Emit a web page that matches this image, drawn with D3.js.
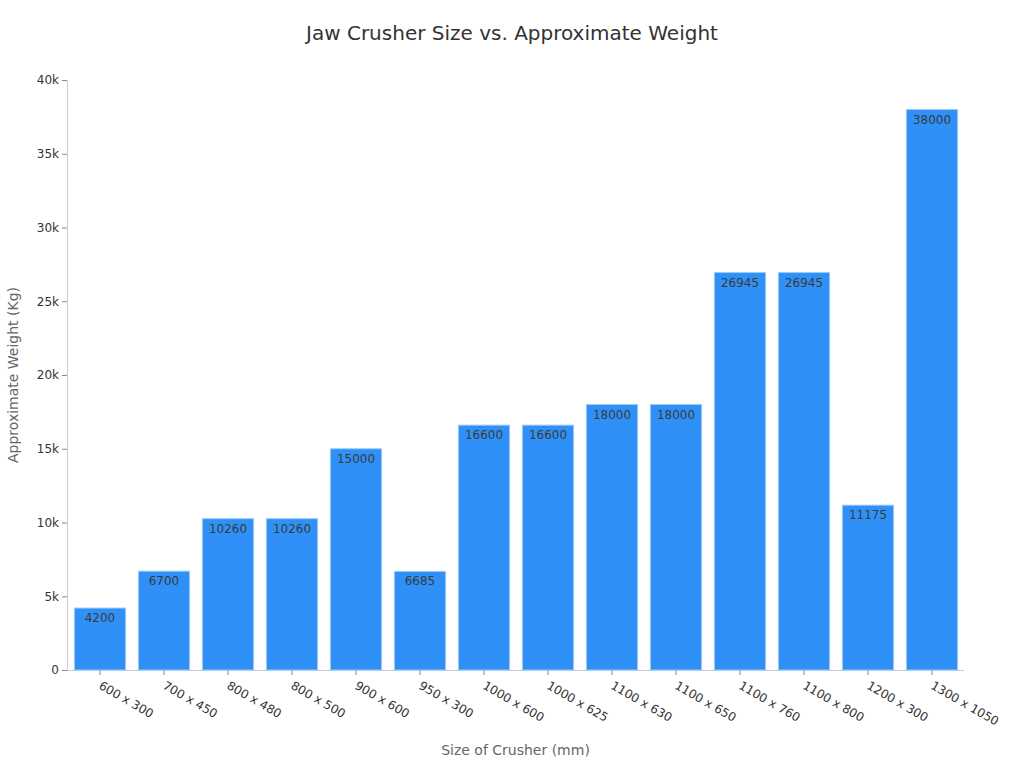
<!DOCTYPE html>
<html><head><meta charset="utf-8">
<script src="https://cdn.jsdelivr.net/npm/d3@7"></script>
<style>body{margin:0;background:#fff;font-family:"DejaVu Sans",sans-serif;}</style>
</head><body><svg id="c" width="1024" height="768"></svg>
<script>
const categories = ["600 x 300","700 x 450","800 x 480","800 x 500","900 x 600","950 x 300","1000 x 600","1000 x 625","1100 x 630","1100 x 650","1100 x 760","1100 x 800","1200 x 300","1300 x 1050"];
const weights = [4200,6700,10260,10260,15000,6685,16600,16600,18000,18000,26945,26945,11175,38000];
const yTicks = [0,5000,10000,15000,20000,25000,30000,35000,40000];

const svg = d3.select("#c");
const m = {l:67, r:60, t:80, b:98};
const W = 1024, H = 768;
const x = d3.scaleBand().domain(categories).range([m.l + 1, W - m.r]).paddingInner(0.2).paddingOuter(0.1);
const y = d3.scaleLinear().domain([0,40000]).range([H - m.b, m.t]);

svg.append("text").attr("x",512).attr("y",40).attr("text-anchor","middle")
  .attr("font-size",20).attr("fill","#333").text("Jaw Crusher Size vs. Approximate Weight");

const gy = svg.append("g").attr("transform",`translate(${m.l},0)`)
  .call(d3.axisLeft(y).tickValues(yTicks).tickSize(5).tickPadding(3).tickFormat(d => d===0 ? "0" : (d/1000)+"k"));
gy.select(".domain").attr("stroke","#ccc");
gy.selectAll(".tick line").attr("stroke","#888");
gy.selectAll(".tick text").attr("font-size",12).attr("fill","#333").attr("font-family","DejaVu Sans");

const gx = svg.append("g").attr("transform",`translate(0,${H-m.b})`)
  .call(d3.axisBottom(x).tickSize(5).tickSizeOuter(0));
gx.select(".domain").attr("stroke","#ccc").attr("d",`M${m.l},0.5H${W-m.r}`);
gx.selectAll(".tick line").attr("stroke","#888");
gx.selectAll(".tick text").attr("font-size",12).attr("fill","#333").attr("font-family","DejaVu Sans")
  .attr("text-anchor","start").attr("dy",0).attr("y",0)
  .attr("transform","translate(-2,18) rotate(30)");

svg.append("g").selectAll("rect").data(weights).join("rect")
  .attr("x",(d,i)=>x(categories[i])).attr("width",x.bandwidth())
  .attr("y",d=>y(d)).attr("height",d=>y(0)-y(d))
  .attr("fill","#2f91f7").attr("stroke","#9dcaf9").attr("stroke-width",1);

svg.append("g").selectAll("text").data(weights).join("text")
  .attr("x",(d,i)=>x(categories[i])+x.bandwidth()/2).attr("y",d=>y(d)+14)
  .attr("text-anchor","middle").attr("font-size",12).attr("fill","#3a3a3a").text(d=>d);

svg.append("text").attr("x",(m.l + W - m.r)/2).attr("y",755).attr("text-anchor","middle")
  .attr("font-size",14).attr("fill","#666").text("Size of Crusher (mm)");
svg.append("text").attr("transform",`translate(18,${(m.t + H - m.b)/2}) rotate(-90)`).attr("text-anchor","middle")
  .attr("font-size",14).attr("fill","#666").text("Approximate Weight (Kg)");
</script></body></html>
